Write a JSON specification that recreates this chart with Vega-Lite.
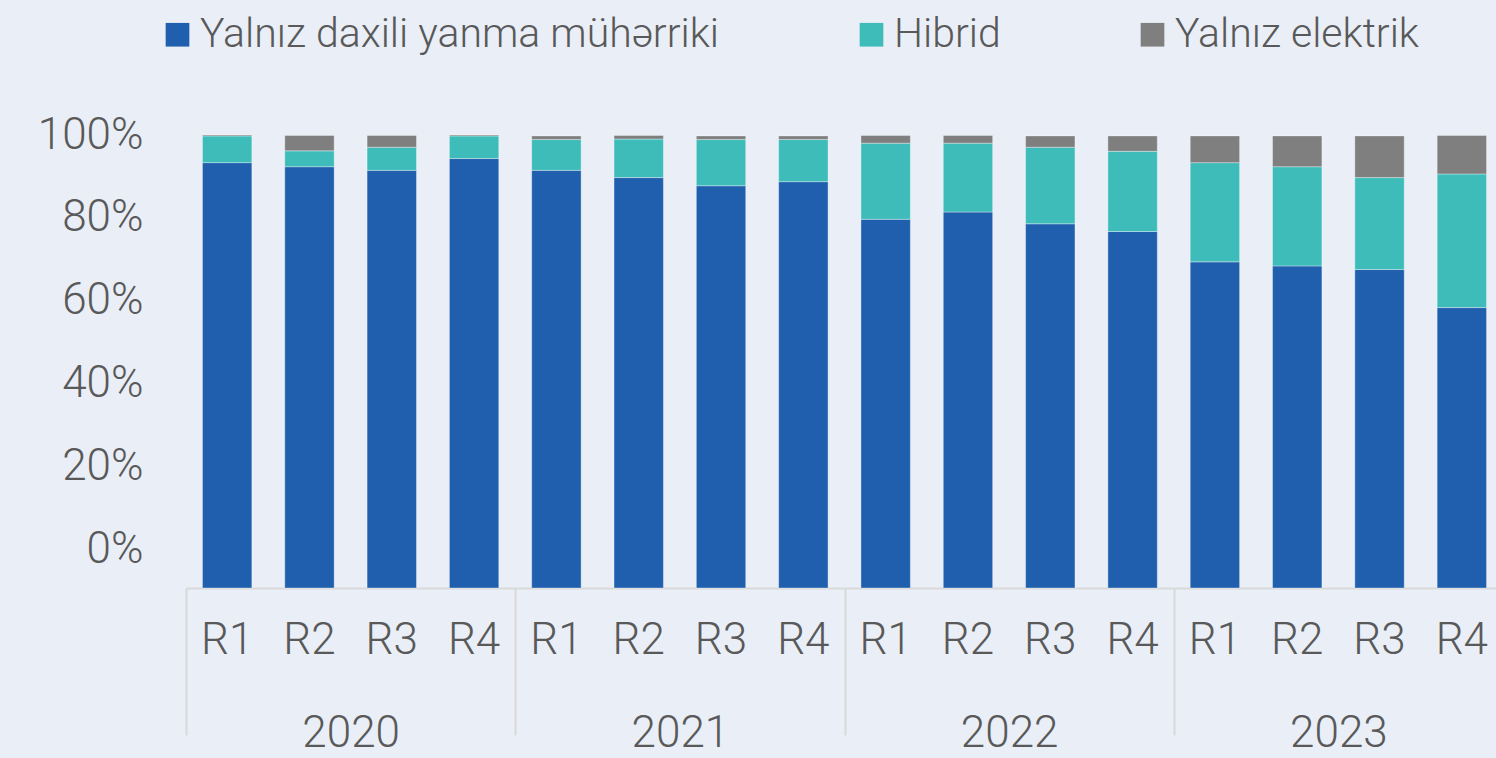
{
  "$schema": "https://vega.github.io/schema/vega-lite/v6.json",
  "autosize": "none",
  "width": 1310,
  "height": 453,
  "padding": {"left": 186, "top": 135, "right": 0, "bottom": 170},
  "background": "#e9eef7",
  "config": {
    "view": {"stroke": null},
    "font": "Roboto",
    "axis": {"labelFont": "Roboto", "labelFontWeight": 300, "labelColor": "#595959", "labelFontSize": 44}
  },
  "data": {
    "values": [
      {"p": "2020 R1", "year": "2020", "s": 1, "series": "Yalnız daxili yanma mühərriki", "v": 93.9},
      {"p": "2020 R1", "year": "2020", "s": 2, "series": "Hibrid", "v": 5.9},
      {"p": "2020 R1", "year": "2020", "s": 3, "series": "Yalnız elektrik", "v": 0.2},
      {"p": "2020 R2", "year": "2020", "s": 1, "series": "Yalnız daxili yanma mühərriki", "v": 93.0},
      {"p": "2020 R2", "year": "2020", "s": 2, "series": "Hibrid", "v": 3.5},
      {"p": "2020 R2", "year": "2020", "s": 3, "series": "Yalnız elektrik", "v": 3.4},
      {"p": "2020 R3", "year": "2020", "s": 1, "series": "Yalnız daxili yanma mühərriki", "v": 92.2},
      {"p": "2020 R3", "year": "2020", "s": 2, "series": "Hibrid", "v": 5.1},
      {"p": "2020 R3", "year": "2020", "s": 3, "series": "Yalnız elektrik", "v": 2.6},
      {"p": "2020 R4", "year": "2020", "s": 1, "series": "Yalnız daxili yanma mühərriki", "v": 94.8},
      {"p": "2020 R4", "year": "2020", "s": 2, "series": "Hibrid", "v": 5.0},
      {"p": "2020 R4", "year": "2020", "s": 3, "series": "Yalnız elektrik", "v": 0.2},
      {"p": "2021 R1", "year": "2021", "s": 1, "series": "Yalnız daxili yanma mühərriki", "v": 92.2},
      {"p": "2021 R1", "year": "2021", "s": 2, "series": "Hibrid", "v": 6.8},
      {"p": "2021 R1", "year": "2021", "s": 3, "series": "Yalnız elektrik", "v": 0.8},
      {"p": "2021 R2", "year": "2021", "s": 1, "series": "Yalnız daxili yanma mühərriki", "v": 90.6},
      {"p": "2021 R2", "year": "2021", "s": 2, "series": "Hibrid", "v": 8.5},
      {"p": "2021 R2", "year": "2021", "s": 3, "series": "Yalnız elektrik", "v": 0.8},
      {"p": "2021 R3", "year": "2021", "s": 1, "series": "Yalnız daxili yanma mühərriki", "v": 88.8},
      {"p": "2021 R3", "year": "2021", "s": 2, "series": "Hibrid", "v": 10.2},
      {"p": "2021 R3", "year": "2021", "s": 3, "series": "Yalnız elektrik", "v": 0.8},
      {"p": "2021 R4", "year": "2021", "s": 1, "series": "Yalnız daxili yanma mühərriki", "v": 89.7},
      {"p": "2021 R4", "year": "2021", "s": 2, "series": "Hibrid", "v": 9.3},
      {"p": "2021 R4", "year": "2021", "s": 3, "series": "Yalnız elektrik", "v": 0.8},
      {"p": "2022 R1", "year": "2022", "s": 1, "series": "Yalnız daxili yanma mühərriki", "v": 81.4},
      {"p": "2022 R1", "year": "2022", "s": 2, "series": "Hibrid", "v": 16.8},
      {"p": "2022 R1", "year": "2022", "s": 3, "series": "Yalnız elektrik", "v": 1.7},
      {"p": "2022 R2", "year": "2022", "s": 1, "series": "Yalnız daxili yanma mühərriki", "v": 83.0},
      {"p": "2022 R2", "year": "2022", "s": 2, "series": "Hibrid", "v": 15.2},
      {"p": "2022 R2", "year": "2022", "s": 3, "series": "Yalnız elektrik", "v": 1.7},
      {"p": "2022 R3", "year": "2022", "s": 1, "series": "Yalnız daxili yanma mühərriki", "v": 80.4},
      {"p": "2022 R3", "year": "2022", "s": 2, "series": "Hibrid", "v": 16.9},
      {"p": "2022 R3", "year": "2022", "s": 3, "series": "Yalnız elektrik", "v": 2.5},
      {"p": "2022 R4", "year": "2022", "s": 1, "series": "Yalnız daxili yanma mühərriki", "v": 78.7},
      {"p": "2022 R4", "year": "2022", "s": 2, "series": "Hibrid", "v": 17.7},
      {"p": "2022 R4", "year": "2022", "s": 3, "series": "Yalnız elektrik", "v": 3.4},
      {"p": "2023 R1", "year": "2023", "s": 1, "series": "Yalnız daxili yanma mühərriki", "v": 72.0},
      {"p": "2023 R1", "year": "2023", "s": 2, "series": "Hibrid", "v": 21.9},
      {"p": "2023 R1", "year": "2023", "s": 3, "series": "Yalnız elektrik", "v": 5.9},
      {"p": "2023 R2", "year": "2023", "s": 1, "series": "Yalnız daxili yanma mühərriki", "v": 71.1},
      {"p": "2023 R2", "year": "2023", "s": 2, "series": "Hibrid", "v": 21.9},
      {"p": "2023 R2", "year": "2023", "s": 3, "series": "Yalnız elektrik", "v": 6.8},
      {"p": "2023 R3", "year": "2023", "s": 1, "series": "Yalnız daxili yanma mühərriki", "v": 70.3},
      {"p": "2023 R3", "year": "2023", "s": 2, "series": "Hibrid", "v": 20.3},
      {"p": "2023 R3", "year": "2023", "s": 3, "series": "Yalnız elektrik", "v": 9.2},
      {"p": "2023 R4", "year": "2023", "s": 1, "series": "Yalnız daxili yanma mühərriki", "v": 61.9},
      {"p": "2023 R4", "year": "2023", "s": 2, "series": "Hibrid", "v": 29.5},
      {"p": "2023 R4", "year": "2023", "s": 3, "series": "Yalnız elektrik", "v": 8.5}
    ]
  },
  "layer": [
    {
      "mark": {"type": "bar", "stroke": "#ffffff", "strokeOpacity": 0.35, "strokeWidth": 1},
      "encoding": {
        "x": {
          "field": "p", "type": "nominal", "sort": null,
          "scale": {"paddingInner": 0.4, "paddingOuter": 0.2, "range": [0, 1317]},
          "axis": {
            "title": null, "orient": "bottom", "labelAngle": 0,
            "labelExpr": "split(datum.label, ' ')[1]",
            "ticks": false, "domain": true, "domainColor": "#d9d9d9", "domainWidth": 2,
            "labelPadding": 30
          }
        },
        "y": {
          "field": "v", "type": "quantitative", "stack": "zero",
          "scale": {"domain": [0, 100], "nice": false, "zero": true},
          "axis": null
        },
        "order": {"field": "s", "type": "quantitative", "sort": "ascending"},
        "color": {
          "field": "series", "type": "nominal",
          "scale": {
            "domain": ["Yalnız daxili yanma mühərriki", "Hibrid", "Yalnız elektrik"],
            "range": ["#1f5fad", "#3dbcba", "#7f7f7f"]
          },
          "legend": {
            "title": null, "orient": "none", "direction": "horizontal",
            "legendX": -29, "legendY": -121,
            "symbolType": "square", "symbolSize": 560, "symbolStrokeWidth": 0,
            "labelFont": "Roboto", "labelFontWeight": 300, "labelFontSize": 41, "labelColor": "#595959",
            "labelOffset": 2, "columnPadding": 131, "padding": 0, "labelLimit": 800
          }
        }
      }
    },
    {
      "mark": {"type": "point", "opacity": 0},
      "encoding": {
        "x": {
          "field": "year", "type": "nominal", "sort": null,
          "scale": {"paddingInner": 0, "paddingOuter": 0, "range": [0, 1317]},
          "axis": {
            "title": null, "orient": "bottom", "labelAngle": 0,
            "tickBand": "extent", "ticks": true, "tickSize": 147, "tickColor": "#d9d9d9", "tickWidth": 2,
            "domain": false, "labelPadding": -24
          }
        },
        "y": {
          "field": "v", "type": "quantitative",
          "scale": {"domain": [-9.16, 100], "nice": false, "zero": false},
          "axis": {
            "title": null, "orient": "left", "values": [0, 20, 40, 60, 80, 100],
            "labelExpr": "datum.value + '%'",
            "domain": false, "ticks": false, "grid": false, "labelPadding": 43
          }
        }
      }
    }
  ],
  "resolve": {
    "scale": {"x": "independent", "y": "independent"},
    "axis": {"x": "independent", "y": "independent"}
  }
}
